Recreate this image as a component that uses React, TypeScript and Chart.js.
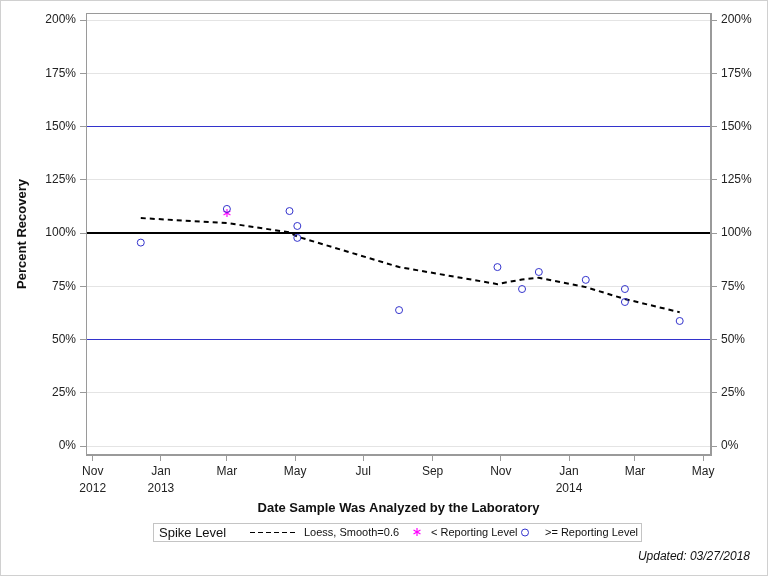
import React, { useEffect, useRef } from 'react';
import { Chart, registerables } from 'chart.js';

Chart.register(...registerables);

// ---- data ----
const pointDates = ['2012-12-14', '2013-03-01', '2013-04-26', '2013-05-03', '2013-05-03', '2013-08-02', '2013-10-29', '2013-11-20', '2013-12-05', '2014-01-16', '2014-02-20', '2014-02-20', '2014-04-10'];
const pointValues = [95.5, 111.3, 110.3, 103.3, 97.7, 63.8, 84.0, 73.7, 81.7, 78.0, 73.7, 67.6, 58.7];

const belowDates = ['2013-03-01'];
const belowValues = [109.4];

const loessDates = ['2012-12-14', '2013-03-01', '2013-04-26', '2013-05-03', '2013-08-02', '2013-10-29', '2013-11-20', '2013-12-05', '2014-01-16', '2014-02-20', '2014-04-10'];
const loessValues = [107.0, 104.7, 100.3, 98.3, 84.0, 76.0, 78.2, 79.0, 74.6, 69.0, 62.8];

const refValues = [150, 100, 50];
const refColors = ['#3333cc', '#000000', '#3333cc'];
const refWidths = [1, 2, 1];

const tickDates = ['2012-11-01', '2013-01-01', '2013-03-01', '2013-05-01', '2013-07-01', '2013-09-01', '2013-11-01', '2014-01-01', '2014-03-01', '2014-05-01'];
const tickLabels: string[][] = [['Nov', '2012'], ['Jan', '2013'], ['Mar'], ['May'], ['Jul'], ['Sep'], ['Nov'], ['Jan', '2014'], ['Mar'], ['May']];

const yTicks = [0, 25, 50, 75, 100, 125, 150, 175, 200];

const X_START = '2012-10-26';
const X_END = '2014-05-08';

// ---- helpers ----
const DAY = 86400000;
const BASE = Date.UTC(2012, 10, 1);
const toDay = (s: string) => {
  const [y, m, d] = s.split('-').map(Number);
  return (Date.UTC(y, m - 1, d) - BASE) / DAY;
};

const FONT = "'Liberation Sans', Arial, sans-serif";
const BLUE = '#3333cc';
const MAGENTA = '#ff00ff';
const Y_MIN = -9 / 2.13;
const Y_MAX = 200 + 7 / 2.13;

function makeStar(color: string, size: number) {
  const c = document.createElement('canvas');
  c.width = size;
  c.height = size;
  const g = c.getContext('2d')!;
  g.strokeStyle = color;
  g.lineWidth = 1.2;
  const cx = size / 2, cy = size / 2, r = size / 2 - 1;
  for (let i = 0; i < 3; i++) {
    const a = Math.PI / 2 + (i * Math.PI) / 3;
    g.beginPath();
    g.moveTo(cx + r * Math.cos(a), cy + r * Math.sin(a));
    g.lineTo(cx - r * Math.cos(a), cy - r * Math.sin(a));
    g.stroke();
  }
  return c;
}

export default function App() {
  const ref = useRef<HTMLCanvasElement | null>(null);

  useEffect(() => {
    document.body.style.margin = '0';
    const canvas = ref.current!;
    const star = makeStar(MAGENTA, 10);
    const xMin = toDay(X_START);
    const xMax = toDay(X_END);
    const tickDays = tickDates.map(toDay);

    const frame = {
      id: 'frame',
      beforeDatasetsDraw(chart: any) {
        const { ctx, chartArea: a } = chart;
        const ys = chart.scales.y;
        ctx.save();
        // reference lines
        refValues.forEach((v, i) => {
          const py = ys.getPixelForValue(v);
          const w = refWidths[i];
          ctx.fillStyle = refColors[i];
          ctx.fillRect(a.left, Math.round(py - w / 2), a.right - a.left, w);
        });
        ctx.strokeStyle = '#9a9a9a';
        ctx.lineWidth = 1;
        ctx.strokeRect(Math.round(a.left) + 0.5, Math.round(a.top) + 0.5, Math.round(a.right - a.left) - 1, Math.round(a.bottom - a.top) - 1);
        ctx.restore();
      },
      afterDraw(chart: any) {
        const { ctx } = chart;
        ctx.save();
        // outer border
        ctx.strokeStyle = '#d0d0d0';
        ctx.lineWidth = 1;
        ctx.strokeRect(0.5, 0.5, 767, 575);
        // legend box
        ctx.strokeStyle = '#c4c4c4';
        ctx.strokeRect(153.5, 523.5, 488, 18);
        ctx.fillStyle = '#111';
        ctx.textBaseline = 'middle';
        ctx.textAlign = 'left';
        ctx.font = `13px ${FONT}`;
        ctx.fillText('Spike Level', 159, 533);
        ctx.font = `11px ${FONT}`;
        // loess sample
        ctx.strokeStyle = '#000';
        ctx.lineWidth = 1;
        ctx.setLineDash([5, 3]);
        ctx.beginPath();
        ctx.moveTo(250, 532.5);
        ctx.lineTo(298, 532.5);
        ctx.stroke();
        ctx.setLineDash([]);
        ctx.fillText('Loess, Smooth=0.6', 304, 533);
        ctx.drawImage(star, 412, 527);
        ctx.fillText('< Reporting Level', 431, 533);
        ctx.strokeStyle = BLUE;
        ctx.beginPath();
        ctx.arc(525, 532.5, 3.5, 0, Math.PI * 2);
        ctx.stroke();
        ctx.fillText('>= Reporting Level', 545, 533);
        // updated note
        ctx.font = `italic 12px ${FONT}`;
        ctx.textAlign = 'right';
        ctx.fillStyle = '#111';
        ctx.fillText('Updated: 03/27/2018', 750, 557);
        ctx.restore();
      },
    };

    const chart = new Chart(canvas, {
      type: 'scatter',
      data: {
        datasets: [
          {
            label: '>= Reporting Level',
            data: pointDates.map((d, i) => ({ x: toDay(d), y: pointValues[i] })),
            pointStyle: 'circle',
            pointRadius: 3.5,
            borderColor: BLUE,
            backgroundColor: 'rgba(0,0,0,0)',
            borderWidth: 1,
            order: 0,
          },
          {
            label: '< Reporting Level',
            data: belowDates.map((d, i) => ({ x: toDay(d), y: belowValues[i] })),
            pointStyle: star as any,
            pointRadius: 5,
            order: 0,
          },
          {
            type: 'line' as const,
            label: 'Loess, Smooth=0.6',
            data: loessDates.map((d, i) => ({ x: toDay(d), y: loessValues[i] })),
            borderColor: '#000',
            borderWidth: 2,
            borderDash: [5, 4],
            pointRadius: 0,
            tension: 0,
            fill: false,
            order: 1,
          },
        ] as any,
      },
      options: {
        animation: false,
        responsive: false,
        layout: { padding: { top: 13, left: 0, right: 0, bottom: 0 } },
        plugins: { legend: { display: false }, tooltip: { enabled: false } },
        scales: {
          x: {
            type: 'linear',
            position: 'bottom',
            min: xMin,
            max: xMax,
            afterBuildTicks: (s: any) => {
              s.ticks = tickDays.map((v) => ({ value: v }));
            },
            afterFit: (s: any) => {
              s.height = 121;
            },
            ticks: {
              autoSkip: false,
              maxRotation: 0,
              padding: 2,
              color: '#222',
              font: { family: FONT, size: 12, lineHeight: 1.4 },
              callback: (v: any) => {
                const i = tickDays.findIndex((t) => Math.abs(t - Number(v)) < 0.01);
                return i >= 0 ? tickLabels[i] : '';
              },
            },
            grid: { drawOnChartArea: false, drawTicks: true, tickLength: 6, tickColor: '#9a9a9a' },
            border: { display: true, color: '#9a9a9a' },
            title: {
              display: true,
              text: 'Date Sample Was Analyzed by the Laboratory',
              color: '#111',
              font: { family: FONT, size: 13, weight: 'bold' },
              padding: { top: 0, bottom: 60 },
            },
          },
          y: {
            type: 'linear',
            position: 'left',
            min: Y_MIN,
            max: Y_MAX,
            afterBuildTicks: (s: any) => {
              s.ticks = yTicks.map((v) => ({ value: v }));
            },
            afterFit: (s: any) => {
              s.width = 86;
            },
            ticks: {
              padding: 4,
              color: '#222',
              font: { family: FONT, size: 12 },
              callback: (v: any) => `${v}%`,
            },
            grid: { color: '#e4e4e4', lineWidth: 1, tickLength: 6, tickColor: '#9a9a9a' },
            border: { display: true, color: '#9a9a9a' },
            title: {
              display: true,
              text: 'Percent Recovery',
              color: '#111',
              font: { family: FONT, size: 13, weight: 'bold' },
              padding: { top: 15, bottom: 0 },
            },
          },
          y2: {
            type: 'linear',
            position: 'right',
            min: Y_MIN,
            max: Y_MAX,
            afterBuildTicks: (s: any) => {
              s.ticks = yTicks.map((v) => ({ value: v }));
            },
            afterFit: (s: any) => {
              s.width = 57;
            },
            ticks: {
              padding: 4,
              color: '#222',
              font: { family: FONT, size: 12 },
              callback: (v: any) => `${v}%`,
            },
            grid: { drawOnChartArea: false, tickLength: 6, tickColor: '#9a9a9a' },
            border: { display: true, color: '#9a9a9a' },
          },
        },
      } as any,
      plugins: [frame],
    });

    return () => chart.destroy();
  }, []);

  return (
    <div style={{ position: 'fixed', left: 0, top: 0, width: 768, height: 576, background: '#fff' }}>
      <canvas ref={ref} width={768} height={576} style={{ display: 'block', width: 768, height: 576 }} />
    </div>
  );
}
